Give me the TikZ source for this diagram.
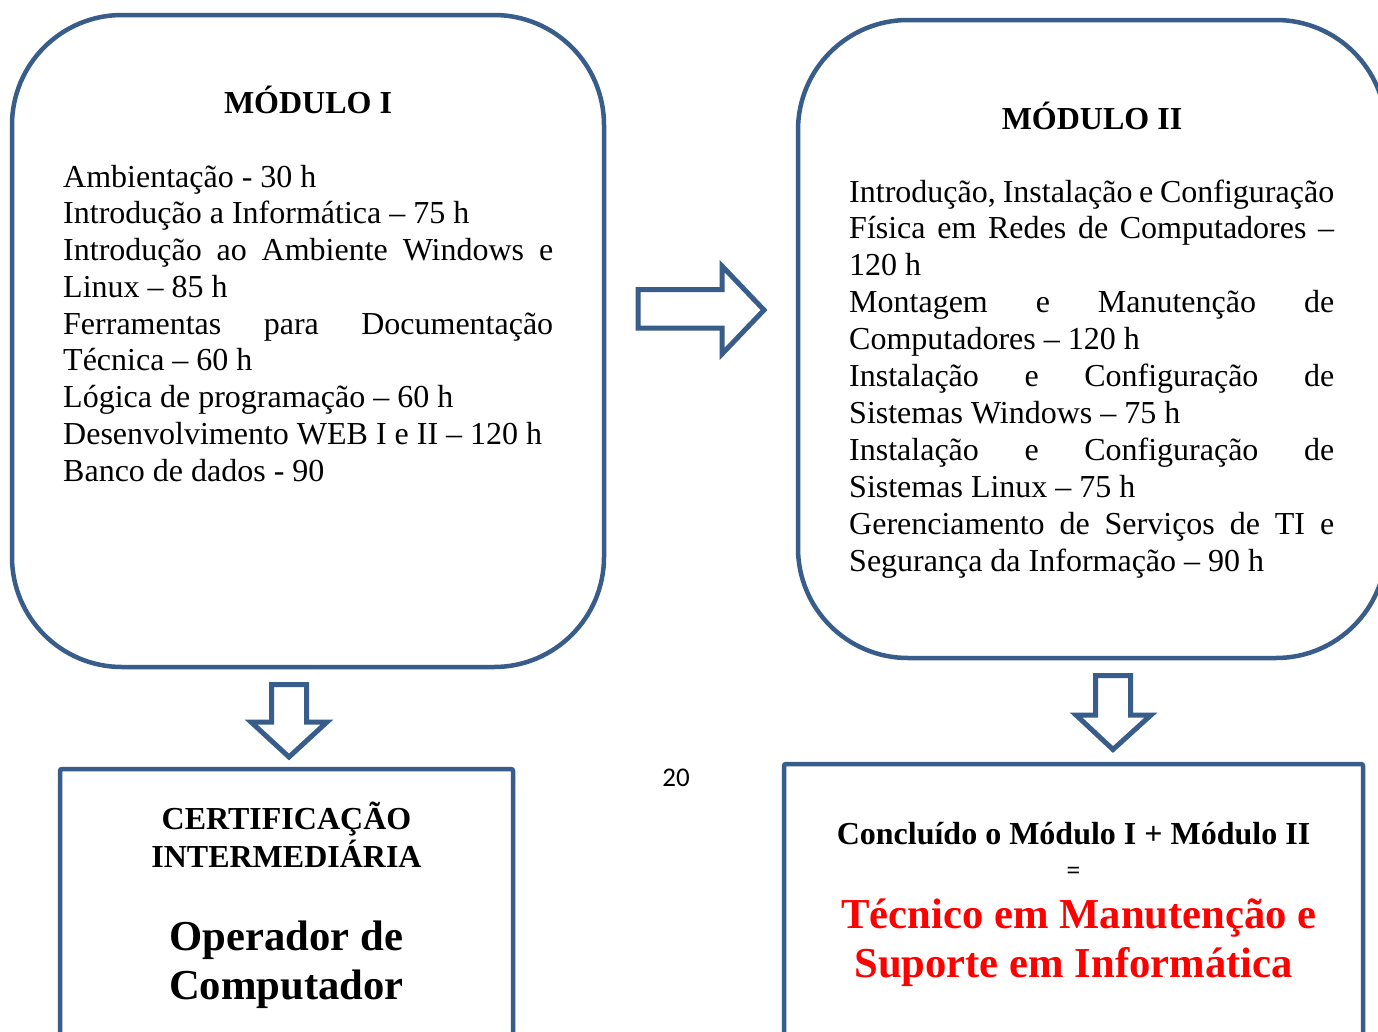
\documentclass[tikz,border=0pt]{standalone}
\usepackage{fontspec}
\setmainfont{Liberation Serif}
\newfontfamily\calibrifont{Carlito}
\definecolor{boxblue}{HTML}{385D8A}
\definecolor{redtxt}{HTML}{FF0000}
\tikzset{
  blueline/.style={draw=boxblue, line width=4.5pt},
  modbox/.style={blueline, rounded corners=110pt, inner sep=0pt},
  certbox/.style={blueline, rounded corners=2pt, inner sep=0pt},
  bodytxt/.style={anchor=base west, inner sep=0pt, font=\fontsize{32}{36.75}\selectfont},
  titletxt/.style={anchor=base, inner sep=0pt, font=\bfseries\fontsize{32}{36.75}\selectfont},
  bigtxt/.style={anchor=base, inner sep=0pt, font=\bfseries\fontsize{42.67}{49}\selectfont},
  blockarrow/.style={draw=boxblue, line width=5pt, line join=miter, fill=white},
}
\newcommand{\jl}[2]{\makebox[#1pt][s]{#2}}
\begin{document}
\begin{tikzpicture}[x=1pt,y=-1pt]
\useasboundingbox (0,0) rectangle (1378,1031);
\clip (0,0) rectangle (1378,1031);
\fill[white] (0,0) rectangle (1378,1031);

% boxes
\node[modbox, minimum width=592pt, minimum height=652pt] (m1) at (308,341) {};
\node[modbox, minimum width=588pt, minimum height=638pt] (m2) at (1092,339) {};
\node[certbox, minimum width=453pt, minimum height=291pt] (c1) at (286.5,914.5) {};
\node[certbox, minimum width=579pt, minimum height=296pt] (c2) at (1073.5,912) {};

% block arrows
\draw[blockarrow] (638,289.5) -- (722,289.5) -- (722,266) -- (764,310) -- (722,354) -- (722,328) -- (638,328) -- cycle;
\draw[blockarrow] (271.5,684.5) -- (306.5,684.5) -- (306.5,722) -- (327,722) -- (289,757) -- (251,722) -- (271.5,722) -- cycle;
\draw[blockarrow] (1095.5,675.5) -- (1130.5,675.5) -- (1130.5,715) -- (1151,715) -- (1113,749.5) -- (1076,715) -- (1095.5,715) -- cycle;

% module I
\node[titletxt] (t1) at (308,113) {MÓDULO I};
\node[bodytxt] (a1) at (63,187) {Ambientação - 30 h};
\node[bodytxt] (a2) at (63,223.75) {Introdução a Informática – 75 h};
\node[bodytxt] (a3) at (63,260.5) {\jl{490}{Introdução ao Ambiente Windows e}};
\node[bodytxt] (a4) at (63,297.25) {Linux – 85 h};
\node[bodytxt] (a5) at (63,334) {\jl{490}{Ferramentas para Documentação}};
\node[bodytxt] (a6) at (63,370.75) {Técnica – 60 h};
\node[bodytxt] (a7) at (63,407.5) {Lógica de programação – 60 h};
\node[bodytxt] (a8) at (63,444.25) {Desenvolvimento WEB I e II – 120 h};
\node[bodytxt] (a9) at (63,481) {Banco de dados - 90};

% module II
\node[titletxt] (t2) at (1092,129) {MÓDULO II};
\node[bodytxt] (b1) at (849,202) {\jl{485}{Introdução, Instalação e Configuração}};
\node[bodytxt] (b2) at (849,238.9) {\jl{485}{Física em Redes de Computadores –}};
\node[bodytxt] (b3) at (849,275.8) {120 h};
\node[bodytxt] (b4) at (849,312.7) {\jl{485}{Montagem e Manutenção de}};
\node[bodytxt] (b5) at (849,349.6) {Computadores – 120 h};
\node[bodytxt] (b6) at (849,386.5) {\jl{485}{Instalação e Configuração de}};
\node[bodytxt] (b7) at (849,423.4) {Sistemas Windows – 75 h};
\node[bodytxt] (b8) at (849,460.3) {\jl{485}{Instalação e Configuração de}};
\node[bodytxt] (b9) at (849,497.2) {Sistemas Linux – 75 h};
\node[bodytxt] (b10) at (849,534.1) {\jl{485}{Gerenciamento de Serviços de TI e}};
\node[bodytxt] (b11) at (849,571) {Segurança da Informação – 90 h};

% certification
\node[titletxt] (ci1) at (286.5,829) {CERTIFICAÇÃO};
\node[titletxt] (ci2) at (286.5,867) {INTERMEDIÁRIA};
\node[bigtxt] (ci3) at (286.5,950) {Operador de};
\node[bigtxt] (ci4) at (286.5,999) {Computador};

% conclusion
\node[titletxt] (co1) at (1073.5,844) {Concluído o Módulo I + Módulo II};
\node[anchor=base, inner sep=0pt, font=\bfseries\fontsize{24}{28}\selectfont] (co2) at (1073.5,878) {=};
\node[bigtxt, text=redtxt] (co3) at (1079,928) {Técnico em Manutenção e};
\node[bigtxt, text=redtxt] (co4) at (1073.5,977) {Suporte em Informática};

% page number
\node[anchor=base, inner sep=0pt, font=\calibrifont\fontsize{27}{32}\selectfont] (pg) at (676,786) {20};
\end{tikzpicture}
\end{document}
